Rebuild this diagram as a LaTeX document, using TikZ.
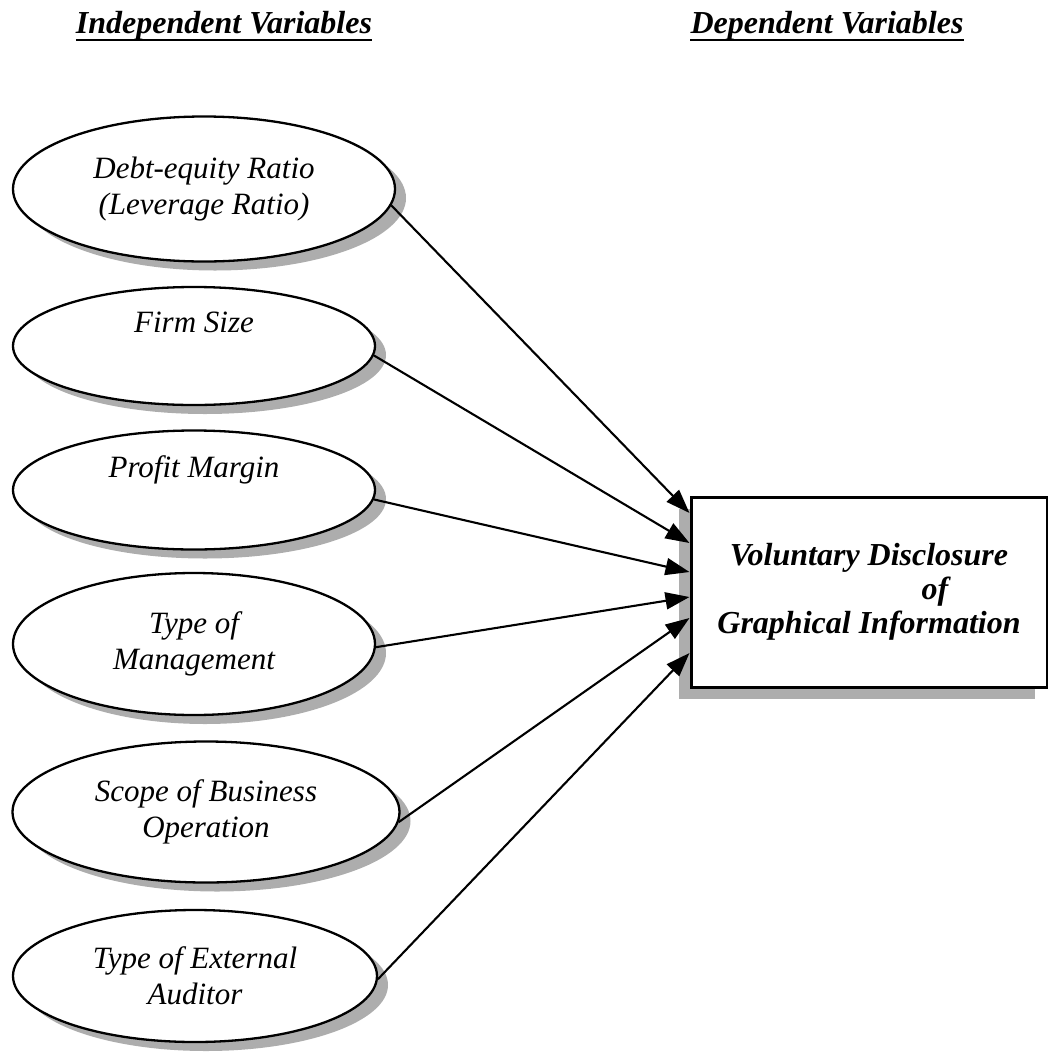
\documentclass[tikz,border=0pt]{standalone}
\usepackage{fontspec}
\setmainfont{Liberation Serif}
\usetikzlibrary{arrows.meta,shadows,shapes.geometric}
\begin{document}
\begin{tikzpicture}[x=1pt,y=-1pt,
  var/.style={ellipse, draw=black, line width=2.3pt, fill=white, inner sep=0pt, align=center,
    font=\fontsize{31}{36}\selectfont\itshape,
    drop shadow={shadow xshift=11pt, shadow yshift=-9pt, fill=black!32, opacity=1}},
  depvar/.style={rectangle, draw=black, line width=3pt, fill=white, inner sep=0pt, align=center,
    font=\fontsize{32}{34}\selectfont\bfseries\itshape,
    drop shadow={shadow xshift=-12pt, shadow yshift=-12pt, fill=black!32, opacity=1}},
  heading/.style={inner sep=0pt, font=\fontsize{32}{34}\selectfont\bfseries\itshape},
  uline/.style={line width=2.8pt},
  conn/.style={line width=2.1pt, -{Triangle[length=24pt,width=17pt]}}]
\useasboundingbox (0,0) rectangle (1048,1061);

% headings
\node[heading, anchor=base] (hi) at (224,33) {Independent Variables};
\node[heading, anchor=base] (hd) at (827,33) {Dependent Variables};
\draw[uline] ([yshift=-7pt]hi.base west) -- ([yshift=-7pt]hi.base east);
\draw[uline] ([yshift=-7pt]hd.base west) -- ([yshift=-7pt]hd.base east);

% independent variables
\node[var, minimum width=382pt, minimum height=145pt] (e1) at (204,189) {Debt-equity Ratio\\(Leverage Ratio)};
\node[var, minimum width=362pt, minimum height=118pt] (e2) at (194,346) {Firm Size\\\strut};
\node[var, minimum width=362pt, minimum height=119pt] (e3) at (194,490) {Profit Margin\\\strut};
\node[var, minimum width=362pt, minimum height=142pt] (e4) at (194,644) {Type of\\Management};
\node[var, minimum width=387pt, minimum height=141pt] (e5) at (206,812) {Scope of Business\\Operation};
\node[var, minimum width=364pt, minimum height=132pt] (e6) at (195,976) {Type of External\\Auditor};

% dependent variable
\node[depvar, minimum width=356pt, minimum height=190pt] (dv) at (869,592)
  {Voluntary Disclosure\\\hspace*{132pt}of\\Graphical Information};

% connectors
\draw[conn] (e1.-5) -- ([yshift=79pt]dv.west);
\draw[conn] (e2.-3) -- ([yshift=49pt]dv.west);
\draw[conn] (e3.-3) -- ([yshift=20pt]dv.west);
\draw[conn] (e4.-1) -- ([yshift=-5pt]dv.west);
\draw[conn] (e5.-3) -- ([yshift=-26pt]dv.west);
\draw[conn] (e6.-1) -- ([yshift=-61pt]dv.west);
\end{tikzpicture}
\end{document}
